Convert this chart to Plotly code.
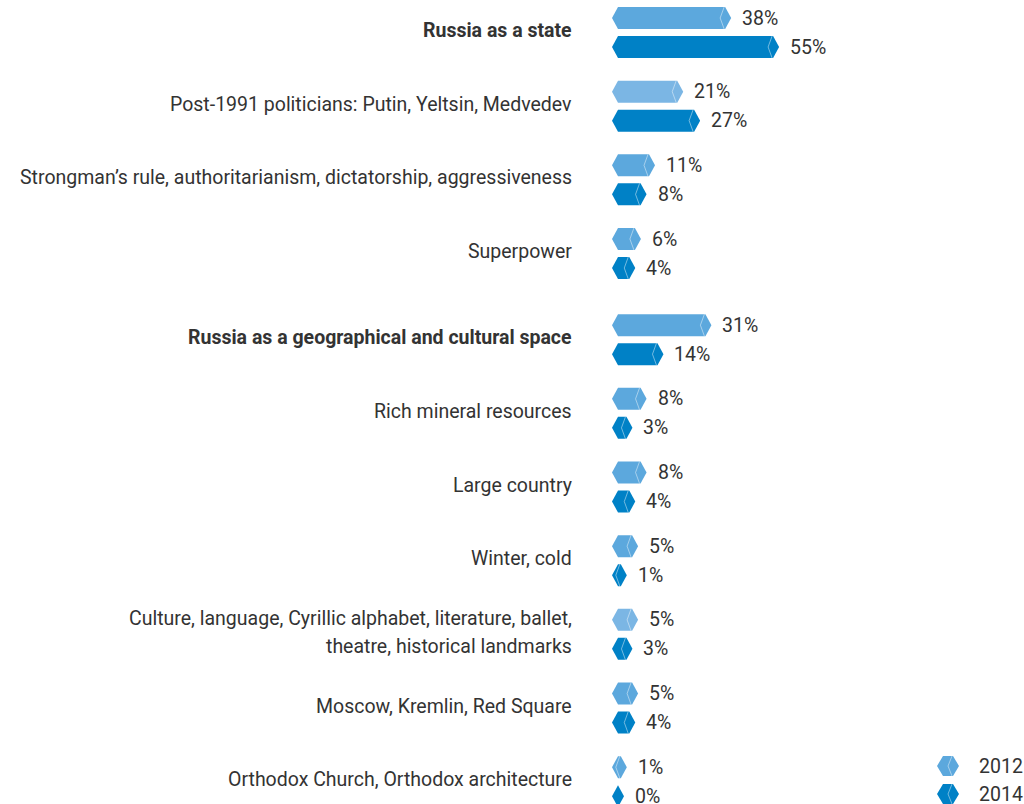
import plotly.graph_objects as go

categories = [
    "Russia as a state",
    "Post-1991 politicians: Putin, Yeltsin, Medvedev",
    "Strongman’s rule, authoritarianism, dictatorship, aggressiveness",
    "Superpower",
    "Russia as a geographical and cultural space",
    "Rich mineral resources",
    "Large country",
    "Winter, cold",
    "Culture, language, Cyrillic alphabet, literature, ballet,<br>theatre, historical landmarks",
    "Moscow, Kremlin, Red Square",
    "Orthodox Church, Orthodox architecture",
]
bold_rows = [0, 4]
values_2012 = [38, 21, 11, 6, 31, 8, 8, 5, 5, 5, 1]
values_2014 = [55, 27, 8, 4, 14, 3, 4, 1, 3, 4, 0]
series_names = ["2012", "2014"]

C2012 = "#5ca8dd"
C2012_LIGHT = "#7bb6e4"
C2014 = "#0081c6"
light_2012_rows = [1, 8]

W, H = 1024, 804
S = 2.82          # pixels per percent
T = 6 / S         # tip width in data units
HH = 11           # half bar height (px)
X0 = 618          # pixel of value 0
PITCH = 73.67
TOP = 32.5
GAP = 12.5
FONT = "Roboto"
FS = 19.5
TXT = "#333333"

def row_center(i):
    return TOP + i * PITCH + (GAP if i >= 4 else 0)

fig = go.Figure()
annotations = []

def hexagon(v, yc, color):
    xs = [-T, 0, v, v + T, v, 0, -T]
    ys = [yc, yc - HH, yc - HH, yc, yc + HH, yc + HH, yc]
    fig.add_trace(go.Scatter(x=xs, y=ys, fill="toself", fillcolor=color,
                             mode="lines", line=dict(width=0, color=color),
                             hoverinfo="skip", showlegend=False))
    if v > 0:
        tip = v + T
        fig.add_trace(go.Scatter(
            x=[tip - 7 / S, tip - 11 / S, tip - 7 / S],
            y=[yc - HH, yc, yc + HH], mode="lines",
            line=dict(width=1, color="rgba(255,255,255,0.45)"),
            hoverinfo="skip", showlegend=False))
    annotations.append(dict(x=v + T, y=yc, xref="x", yref="y", text=f"{v}%",
                            showarrow=False, xanchor="left", yanchor="middle",
                            xshift=9, font=dict(family=FONT, size=FS, color=TXT)))

for i, cat in enumerate(categories):
    yc = row_center(i)
    c12 = C2012_LIGHT if i in light_2012_rows else C2012
    hexagon(values_2012[i], yc - 14.5, c12)
    hexagon(values_2014[i], yc + 14.5, C2014)
    lines = cat.split("<br>")
    n = len(lines)
    for k, ln in enumerate(lines):
        off = (k - (n - 1) / 2) * 28 - 2
        txt = f"<b>{ln}</b>" if i in bold_rows else ln
        annotations.append(dict(x=(574 - X0) / S, y=yc + off, xref="x", yref="y",
                                text=txt, showarrow=False, xanchor="right",
                                yanchor="middle",
                                font=dict(family=FONT, size=FS, color=TXT)))

# legend
shapes = []
for j, (name, col) in enumerate(zip(series_names, [C2012, C2014])):
    cy = 766 + j * 28
    x1, x2 = 937, 959
    path = (f"M {x1/W},{1-cy/H} L {(x1+6)/W},{1-(cy-10)/H} L {(x2-6)/W},{1-(cy-10)/H} "
            f"L {x2/W},{1-cy/H} L {(x2-6)/W},{1-(cy+10)/H} L {(x1+6)/W},{1-(cy+10)/H} Z")
    shapes.append(dict(type="path", xref="paper", yref="paper", path=path,
                       fillcolor=col, line=dict(width=0)))
    cpath = (f"M {(x2-7)/W},{1-(cy-10)/H} L {(x2-11)/W},{1-cy/H} L {(x2-7)/W},{1-(cy+10)/H}")
    shapes.append(dict(type="path", xref="paper", yref="paper", path=cpath,
                       line=dict(width=1, color="rgba(255,255,255,0.45)")))
    annotations.append(dict(x=977 / W, y=1 - cy / H, xref="paper", yref="paper",
                            text=name, showarrow=False, xanchor="left",
                            yanchor="middle",
                            font=dict(family=FONT, size=FS, color=TXT)))

fig.update_layout(
    width=W, height=H,
    margin=dict(l=0, r=0, t=0, b=0),
    paper_bgcolor="white", plot_bgcolor="white",
    xaxis=dict(range=[-X0 / S, (W - X0) / S], visible=False, fixedrange=True),
    yaxis=dict(range=[H, 0], visible=False, fixedrange=True),
    annotations=annotations, shapes=shapes, showlegend=False,
)

fig.write_html("out.html", config={"displayModeBar": False},
               post_script="document.body.style.margin='0';document.body.style.overflow='hidden';")
